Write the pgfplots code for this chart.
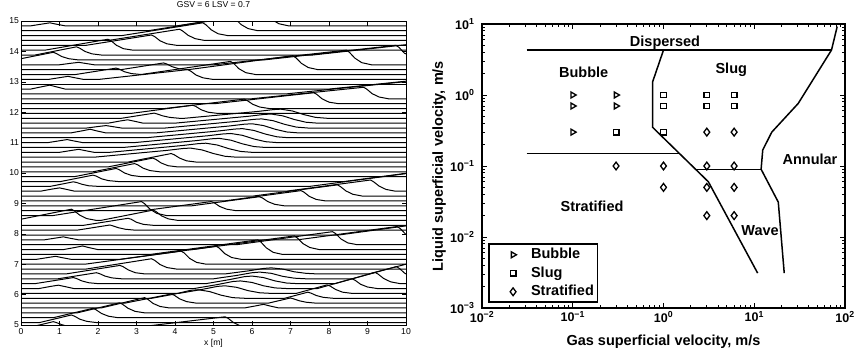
\documentclass[border=0pt]{standalone}
\usepackage{fontspec}
\setmainfont{Liberation Sans}
\usepackage{pgfplots}
\pgfplotsset{compat=1.18}
\begin{document}
\begin{tikzpicture}
\useasboundingbox (0,0) rectangle (858pt,-353pt);
\pgfplotsset{wv/.style={black, line width=1.0pt, mark=none, line join=round}}
\begin{axis}[at={(21pt,-325pt)}, anchor=south west, scale only axis,
  width=385pt, height=304pt, xmin=0, xmax=10, ymin=5, ymax=15,
  xtick={0,...,10}, ytick={5,...,15}, tick align=inside, major tick length=4.5pt,
  /pgf/number format/assume math mode=true,
  ticklabel style={font=\fontsize{8.6}{10}\selectfont},
  yticklabel style={xshift=1.5pt},
  title={GSV = 6 LSV = 0.7},
  title style={font=\fontsize{8.6}{10}\selectfont, at={(axis description cs:0.5,1)}, anchor=center, yshift=10pt},
  xlabel={x [m]},
  xlabel style={font=\fontsize{8.6}{10}\selectfont, at={(axis description cs:0.5,0)}, anchor=center, yshift=-18pt},
  axis line style={line width=0.6pt}, tick style={black, line width=0.5pt}]
\addplot[wv] coordinates {(0,4.92)(0.21,4.92)(0.84,5.11)(0.92,5.08)(1.06,5.01)(1.24,4.95)(1.49,4.92)(2.97,4.92)(5.3,5.27)(5.38,5.22)(5.52,5.08)(5.7,4.97)(5.95,4.92)(10,4.92)};
\addplot[wv] coordinates {(0,5.08)(0.48,5.08)(1.31,5.33)(1.39,5.29)(1.53,5.19)(1.71,5.12)(1.96,5.08)(10,5.08)};
\addplot[wv] coordinates {(0,5.24)(0.84,5.24)(1.87,5.55)(1.95,5.50)(2.09,5.38)(2.27,5.29)(2.52,5.24)(10,5.24)};
\addplot[wv] coordinates {(0,5.40)(1.46,5.40)(2.56,5.73)(2.64,5.68)(2.78,5.55)(2.96,5.45)(3.21,5.40)(10,5.40)};
\addplot[wv] coordinates {(0,5.56)(2.08,5.56)(3.21,5.90)(3.29,5.85)(3.43,5.71)(3.61,5.61)(3.86,5.56)(5.8,5.56)(6.1,5.63)(6.3,5.68)(6.45,5.63)(6.7,5.56)(10,5.56)};
\addplot[wv] coordinates {(0,5.72)(2.7,5.72)(3.9,6.02)(3.98,5.98)(4.12,5.86)(4.3,5.77)(4.55,5.72)(6.43,5.72)(7.0,5.89)(7.08,5.86)(7.22,5.80)(7.4,5.75)(7.65,5.72)(10,5.72)};
\addplot[wv] coordinates {(0,5.88)(3.4,5.88)(4.0,6.02)(4.4,6.14)(4.6,6.16)(4.9,6.10)(5.2,5.98)(5.5,5.90)(5.8,5.88)(6.85,5.88)(7.45,6.08)(7.53,6.05)(7.67,5.97)(7.85,5.91)(8.1,5.88)(10,5.88)};
\addplot[wv] coordinates {(0,6.04)(4.1,6.04)(4.7,6.17)(5.1,6.27)(5.3,6.29)(5.6,6.24)(5.9,6.13)(6.2,6.06)(6.5,6.04)(7.15,6.04)(7.95,6.32)(8.03,6.28)(8.17,6.17)(8.35,6.08)(8.6,6.04)(10,6.04)};
\addplot[wv] coordinates {(0,6.2)(0.47,6.2)(0.77,6.27)(0.97,6.31)(1.12,6.27)(1.37,6.2)(4.5,6.2)(5.1,6.33)(5.5,6.43)(5.7,6.45)(6.0,6.40)(6.3,6.29)(6.6,6.22)(6.9,6.2)(7.7,6.2)(8.6,6.52)(8.68,6.47)(8.82,6.34)(9.0,6.25)(9.25,6.2)(10,6.2)};
\addplot[wv] coordinates {(0,6.36)(0.36,6.36)(1.36,6.56)(1.44,6.53)(1.58,6.45)(1.76,6.39)(2.01,6.36)(4.8,6.36)(5.4,6.49)(5.8,6.59)(6.0,6.61)(6.3,6.56)(6.6,6.45)(6.9,6.38)(7.2,6.36)(8.15,6.36)(9.2,6.73)(9.28,6.67)(9.42,6.53)(9.6,6.42)(9.85,6.36)(10,6.36)};
\addplot[wv] coordinates {(0,6.52)(0.96,6.52)(1.96,6.72)(2.04,6.69)(2.18,6.61)(2.36,6.55)(2.61,6.52)(5.0,6.52)(5.6,6.63)(6.0,6.72)(6.2,6.74)(6.5,6.70)(6.8,6.60)(7.1,6.54)(7.4,6.52)(8.6,6.52)(9.75,6.92)(9.83,6.86)(9.97,6.70)(10,6.68)};
\addplot[wv] coordinates {(0,6.68)(1.17,6.68)(2.57,6.96)(2.65,6.92)(2.79,6.81)(2.97,6.72)(3.22,6.68)(5.3,6.68)(5.9,6.78)(6.3,6.86)(6.5,6.88)(6.8,6.84)(7.1,6.75)(7.4,6.70)(7.7,6.68)(9.03,6.68)(10,7.0)};
\addplot[wv] coordinates {(0,6.84)(1.69,6.84)(3.39,7.18)(3.47,7.13)(3.61,6.99)(3.79,6.89)(4.04,6.84)(10,6.84)};
\addplot[wv] coordinates {(0,7.0)(1.66,7.0)(4.16,7.43)(4.24,7.37)(4.38,7.19)(4.56,7.06)(4.81,7.0)(10,7.0)};
\addplot[wv] coordinates {(0,7.16)(0.4,7.16)(0.7,7.22)(0.9,7.26)(1.05,7.22)(1.3,7.16)(2.57,7.16)(5.07,7.59)(5.15,7.53)(5.29,7.35)(5.47,7.22)(5.72,7.16)(10,7.16)};
\addplot[wv] coordinates {(0,7.32)(3.35,7.32)(6.15,7.80)(6.23,7.73)(6.37,7.54)(6.55,7.39)(6.8,7.32)(10,7.32)};
\addplot[wv] coordinates {(0,7.48)(1.1,7.48)(1.4,7.55)(1.6,7.60)(1.75,7.55)(2.0,7.48)(4.45,7.48)(7.1,7.93)(7.18,7.86)(7.32,7.68)(7.5,7.55)(7.75,7.48)(10,7.48)};
\addplot[wv] coordinates {(0,7.64)(5.59,7.64)(8.09,8.07)(8.17,8.01)(8.31,7.83)(8.49,7.70)(8.74,7.64)(10,7.64)};
\addplot[wv] coordinates {(0,7.8)(0.6,7.8)(0.9,7.86)(1.1,7.9)(1.25,7.86)(1.5,7.8)(7.17,7.8)(9.77,8.24)(9.85,8.17)(9.99,7.99)(10,7.98)};
\addplot[wv] coordinates {(0,7.96)(8.25,7.96)(10,8.26)};
\addplot[wv] coordinates {(0,8.12)(1.46,8.12)(2.31,8.29)(2.39,8.26)(2.53,8.20)(2.71,8.15)(2.96,8.12)(10,8.12)};
\addplot[wv] coordinates {(0,8.28)(1.63,8.28)(2.78,8.51)(2.86,8.48)(3.0,8.38)(3.18,8.31)(3.43,8.28)(10,8.28)};
\addplot[wv] coordinates {(0,8.48)(1.31,8.81)(1.39,8.75)(1.53,8.61)(1.71,8.50)(1.96,8.44)(2.07,8.44)(3.43,8.78)(3.51,8.73)(3.65,8.59)(3.83,8.49)(4.08,8.44)(10,8.44)};
\addplot[wv] coordinates {(0,8.6)(0.83,8.6)(3.13,9.06)(3.21,8.99)(3.35,8.81)(3.53,8.67)(3.78,8.6)(10,8.6)};
\addplot[wv] coordinates {(0,8.76)(3.18,8.76)(4.94,9.06)(5.02,9.02)(5.16,8.90)(5.34,8.81)(5.59,8.76)(10,8.76)};
\addplot[wv] coordinates {(0,8.92)(4.43,8.92)(6.19,9.22)(6.27,9.18)(6.41,9.06)(6.59,8.97)(6.84,8.92)(10,8.92)};
\addplot[wv] coordinates {(0,9.08)(5.27,9.08)(7.27,9.42)(7.35,9.37)(7.49,9.23)(7.67,9.13)(7.92,9.08)(10,9.08)};
\addplot[wv] coordinates {(0,9.24)(6.02,9.24)(8.22,9.61)(8.30,9.55)(8.44,9.41)(8.62,9.30)(8.87,9.24)(10,9.24)};
\addplot[wv] coordinates {(0,9.4)(0.5,9.4)(0.8,9.47)(1.0,9.51)(1.15,9.47)(1.4,9.4)(6.88,9.4)(9.08,9.77)(9.16,9.71)(9.30,9.57)(9.48,9.46)(9.73,9.4)(10,9.4)};
\addplot[wv] coordinates {(0,9.56)(0.76,9.56)(1.36,9.71)(1.44,9.69)(1.58,9.63)(1.76,9.58)(2.01,9.56)(7.5,9.56)(10,9.98)};
\addplot[wv] coordinates {(0,9.72)(1.03,9.72)(1.87,9.93)(1.95,9.90)(2.09,9.81)(2.27,9.75)(2.52,9.72)(8.4,9.72)(10,9.99)};
\addplot[wv] coordinates {(0,9.88)(1.39,9.88)(2.47,10.15)(2.55,10.11)(2.69,10.0)(2.87,9.92)(3.12,9.88)(10,9.88)};
\addplot[wv] coordinates {(0,10.04)(1.87,10.04)(2.95,10.31)(3.03,10.27)(3.17,10.16)(3.35,10.08)(3.6,10.04)(10,10.04)};
\addplot[wv] coordinates {(0,10.2)(2.26,10.2)(3.42,10.49)(3.50,10.45)(3.64,10.33)(3.82,10.24)(4.07,10.2)(10,10.2)};
\addplot[wv] coordinates {(0,10.36)(2.78,10.36)(3.9,10.64)(3.98,10.6)(4.12,10.49)(4.3,10.4)(4.55,10.36)(10,10.36)};
\addplot[wv] coordinates {(0,10.52)(1.9,10.52)(3.8,10.745)(4.2,10.805)(4.4,10.82)(4.7,10.76)(5.0,10.64)(5.3,10.55)(5.6,10.52)(10,10.52)};
\addplot[wv] coordinates {(0,10.68)(1.0,10.68)(1.3,10.74)(1.5,10.78)(1.65,10.74)(1.9,10.68)(2.3,10.68)(4.2,10.905)(4.6,10.965)(4.8,10.98)(5.1,10.92)(5.4,10.80)(5.7,10.71)(6.0,10.68)(10,10.68)};
\addplot[wv] coordinates {(0,10.84)(2.65,10.84)(4.55,11.065)(4.95,11.125)(5.15,11.14)(5.45,11.08)(5.75,10.96)(6.05,10.87)(6.35,10.84)(10,10.84)};
\addplot[wv] coordinates {(0,11.0)(0.7,11.0)(1.0,11.06)(1.2,11.1)(1.35,11.06)(1.6,11.0)(2.95,11.0)(4.85,11.225)(5.25,11.285)(5.45,11.3)(5.75,11.24)(6.05,11.12)(6.35,11.03)(6.65,11.0)(10,11.0)};
\addplot[wv] coordinates {(0,11.16)(3.25,11.16)(5.15,11.385)(5.55,11.445)(5.75,11.46)(6.05,11.40)(6.35,11.28)(6.65,11.19)(6.95,11.16)(10,11.16)};
\addplot[wv] coordinates {(0,11.32)(1.3,11.32)(1.6,11.39)(1.8,11.44)(1.95,11.39)(2.2,11.32)(3.5,11.32)(5.4,11.545)(5.8,11.605)(6.0,11.62)(6.3,11.56)(6.6,11.44)(6.9,11.35)(7.2,11.32)(10,11.32)};
\addplot[wv] coordinates {(0,11.48)(1.71,11.48)(2.01,11.53)(2.21,11.56)(2.36,11.53)(2.61,11.48)(3.75,11.48)(5.65,11.705)(6.05,11.765)(6.25,11.78)(6.55,11.72)(6.85,11.60)(7.15,11.51)(7.45,11.48)(10,11.48)};
\addplot[wv] coordinates {(0,11.64)(2.27,11.64)(2.57,11.71)(2.77,11.75)(2.92,11.71)(3.17,11.64)(4.0,11.64)(5.9,11.865)(6.3,11.925)(6.5,11.94)(6.8,11.88)(7.1,11.76)(7.4,11.67)(7.7,11.64)(10,11.64)};
\addplot[wv] coordinates {(0,11.8)(2.61,11.8)(3.46,11.97)(3.54,11.94)(3.68,11.88)(3.86,11.83)(4.11,11.8)(4.25,11.8)(6.15,12.025)(6.55,12.085)(6.75,12.1)(7.05,12.04)(7.35,11.92)(7.65,11.83)(7.95,11.8)(10,11.8)};
\addplot[wv] coordinates {(0,11.96)(2.86,11.96)(4.46,12.23)(4.54,12.19)(4.68,12.08)(4.86,12.0)(5.11,11.96)(10,11.96)};
\addplot[wv] coordinates {(0,12.12)(3.73,12.12)(5.8,12.43)(5.88,12.38)(6.02,12.26)(6.2,12.17)(6.45,12.12)(10,12.12)};
\addplot[wv] coordinates {(0,12.28)(5.03,12.28)(7.6,12.64)(7.68,12.59)(7.82,12.44)(8.0,12.33)(8.25,12.28)(10,12.28)};
\addplot[wv] coordinates {(0,12.44)(5.98,12.44)(8.9,12.82)(8.98,12.76)(9.12,12.61)(9.3,12.5)(9.55,12.44)(10,12.44)};
\addplot[wv] coordinates {(0,12.6)(6.87,12.6)(9.95,13.0)(10,12.97)};
\addplot[wv] coordinates {(0,12.76)(0.25,12.76)(0.55,12.84)(0.75,12.89)(0.9,12.84)(1.15,12.76)(8.0,12.76)(10,13.02)};
\addplot[wv] coordinates {(0,12.92)(10,12.92)};
\addplot[wv] coordinates {(0,13.08)(0.72,13.08)(1.02,13.14)(1.22,13.18)(1.37,13.14)(1.62,13.08)(2.03,13.08)(4.33,13.40)(4.41,13.35)(4.55,13.22)(4.73,13.13)(4.98,13.08)(10,13.08)};
\addplot[wv] coordinates {(0,13.24)(1.42,13.24)(2.47,13.45)(2.55,13.42)(2.69,13.33)(2.87,13.27)(3.12,13.24)(5.44,13.67)(5.52,13.61)(5.66,13.43)(5.84,13.30)(6.09,13.24)(10,13.24)};
\addplot[wv] coordinates {(0,13.4)(2.6,13.4)(3.7,13.62)(3.78,13.59)(3.92,13.5)(4.1,13.43)(4.35,13.4)(7.06,13.86)(7.14,13.79)(7.28,13.61)(7.46,13.47)(7.71,13.4)(10,13.4)};
\addplot[wv] coordinates {(0,13.56)(1.0,13.56)(1.3,13.61)(1.5,13.64)(1.65,13.61)(1.9,13.56)(5.02,13.56)(8.45,14.04)(8.53,13.97)(8.67,13.78)(8.85,13.63)(9.1,13.56)(10,13.56)};
\addplot[wv] coordinates {(0,13.76)(0.84,13.97)(0.92,13.93)(1.06,13.83)(1.24,13.76)(1.49,13.72)(6.31,13.72)(9.74,14.20)(9.82,14.13)(9.96,13.94)(10,13.92)};
\addplot[wv] coordinates {(0,13.88)(0.36,13.88)(1.44,14.15)(1.52,14.11)(1.66,14.0)(1.84,13.92)(2.09,13.88)(7.57,13.88)(10,14.22)};
\addplot[wv] coordinates {(0,14.04)(0.62,14.04)(2.26,14.40)(2.34,14.35)(2.48,14.2)(2.66,14.09)(2.91,14.04)(10,14.04)};
\addplot[wv] coordinates {(0,14.2)(1.69,14.2)(3.39,14.54)(3.47,14.49)(3.61,14.35)(3.79,14.25)(4.04,14.2)(10,14.2)};
\addplot[wv] coordinates {(0,14.36)(2.27,14.36)(4.12,14.73)(4.2,14.67)(4.34,14.53)(4.52,14.42)(4.77,14.36)(10,14.36)};
\addplot[wv] coordinates {(0,14.52)(2.62,14.52)(4.72,14.94)(4.8,14.88)(4.94,14.71)(5.12,14.58)(5.37,14.52)(10,14.52)};
\addplot[wv] coordinates {(0,14.68)(3.3,14.68)(5.5,15.12)(5.58,15.05)(5.72,14.88)(5.9,14.75)(6.15,14.68)(10,14.68)};
\addplot[wv] coordinates {(0,14.84)(0.25,14.84)(0.55,14.9)(0.75,14.94)(0.9,14.9)(1.15,14.84)(4.05,14.84)(6.3,15.29)(6.38,15.22)(6.52,15.04)(6.7,14.91)(6.95,14.84)(10,14.84)};
\end{axis}

\begin{axis}[at={(482pt,-308pt)}, anchor=south west, scale only axis,
  width=363pt, height=284pt, xmode=log, ymode=log,
  xmin=1e-2, xmax=1e2, ymin=1e-3, ymax=1e1,
  xtick={1e-2,1e-1,1,1e1,1e2}, ytick={1e-3,1e-2,1e-1,1,1e1},
  minor xtick={0.02,0.03,0.04,0.05,0.06,0.07,0.08,0.09,0.2,0.3,0.4,0.5,0.6,0.7,0.8,0.9,2,3,4,5,6,7,8,9,20,30,40,50,60,70,80,90},
  minor ytick={0.002,0.003,0.004,0.005,0.006,0.007,0.008,0.009,0.02,0.03,0.04,0.05,0.06,0.07,0.08,0.09,0.2,0.3,0.4,0.5,0.6,0.7,0.8,0.9,2,3,4,5,6,7,8,9},
  xticklabels={{10\textsuperscript{−2}},{10\textsuperscript{−1}},{10\textsuperscript{0}},{10\textsuperscript{1}},{10\textsuperscript{2}}},
  yticklabels={{10\textsuperscript{−3}},{10\textsuperscript{−2}},{10\textsuperscript{−1}},{10\textsuperscript{0}},{10\textsuperscript{1}}},
  ticklabel style={font=\bfseries\fontsize{12.5}{14}\selectfont},
  yticklabel style={xshift=-4pt},
  tick align=inside, major tick length=5pt, minor tick length=3pt,
  axis line style={line width=1.8pt}, tick style={black, line width=0.9pt},
  xlabel={Gas superficial velocity, m/s},
  ylabel={Liquid superficial velocity, m/s},
  label style={font=\bfseries\fontsize{14.5}{16}\selectfont},
  xlabel style={at={(axis description cs:0.5,0)}, anchor=center, yshift=-33.5pt},
  ylabel style={at={(axis description cs:0,0.5)}, anchor=center, yshift=43pt},
  legend image code/.code={\path[draw=none, fill=none] (0pt,-3pt) rectangle (30pt,3pt); \draw[#1] plot coordinates {(22pt,0pt)};},
  legend style={at={(0.017,0.017)}, anchor=south west, draw=black, line width=1.8pt,
    font=\bfseries\fontsize{14.5}{16}\selectfont, inner xsep=2pt, inner ysep=2.25pt,
    row sep=2pt, column sep=8.5pt,
    nodes={inner sep=1.5pt, text height=10.5pt, text depth=3pt}},
  legend cell align=left]
\addplot[only marks, black, mark=triangle, mark size=3.4pt, mark options={rotate=-90, line width=1.3pt, fill=white}] coordinates {(0.1,1)(0.1,0.7)(0.1,0.3)(0.3,1)(0.3,0.7)};
\addlegendentry{Bubble}
\addplot[only marks, black, mark=square, mark size=2.8pt, mark options={line width=1.3pt, fill=white}] coordinates {(0.3,0.3)(1,1)(1,0.7)(1,0.3)(3,1)(3,0.7)(6,1)(6,0.7)};
\addlegendentry{Slug}
\addplot[only marks, black, mark=diamond, mark size=3.9pt, mark options={line width=1.3pt, fill=white}] coordinates {(3,0.3)(6,0.3)(0.3,0.1)(1,0.1)(3,0.1)(6,0.1)(1,0.05)(3,0.05)(6,0.05)(3,0.02)(6,0.02)};
\addlegendentry{Stratified}
\addplot[black, line width=1.5pt, forget plot] coordinates {(0.031,4.3)(71,4.3)};
\addplot[black, line width=1.5pt, forget plot] coordinates {(82,9.2)(71,4.3)(30.5,0.76)(15.6,0.30)(12.4,0.168)(11.9,0.09)(18.4,0.031)(21.4,0.0031)};
\addplot[black, line width=1.5pt, forget plot] coordinates {(0.031,0.15)(1.50,0.15)};
\addplot[black, line width=1.5pt, forget plot] coordinates {(1.0,4.3)(0.76,1.54)(0.76,0.35)(3.12,0.06)(10.9,0.0031)};
\addplot[black, line width=1.5pt, forget plot] coordinates {(2.25,0.09)(11.9,0.09)};
\node[font=\bfseries\fontsize{14.5}{16}\selectfont] at (axis cs:1.04,5.52) {Dispersed};
\node[font=\bfseries\fontsize{14.5}{16}\selectfont] at (axis cs:0.132,2.06) {Bubble};
\node[font=\bfseries\fontsize{14.5}{16}\selectfont] at (axis cs:5.58,2.25) {Slug};
\node[font=\bfseries\fontsize{14.5}{16}\selectfont] at (axis cs:41.1,0.126) {Annular};
\node[font=\bfseries\fontsize{14.5}{16}\selectfont] at (axis cs:0.163,0.0274) {Stratified};
\node[font=\bfseries\fontsize{14.5}{16}\selectfont] at (axis cs:11.6,0.0123) {Wave};
\end{axis}
\end{tikzpicture}
\end{document}
